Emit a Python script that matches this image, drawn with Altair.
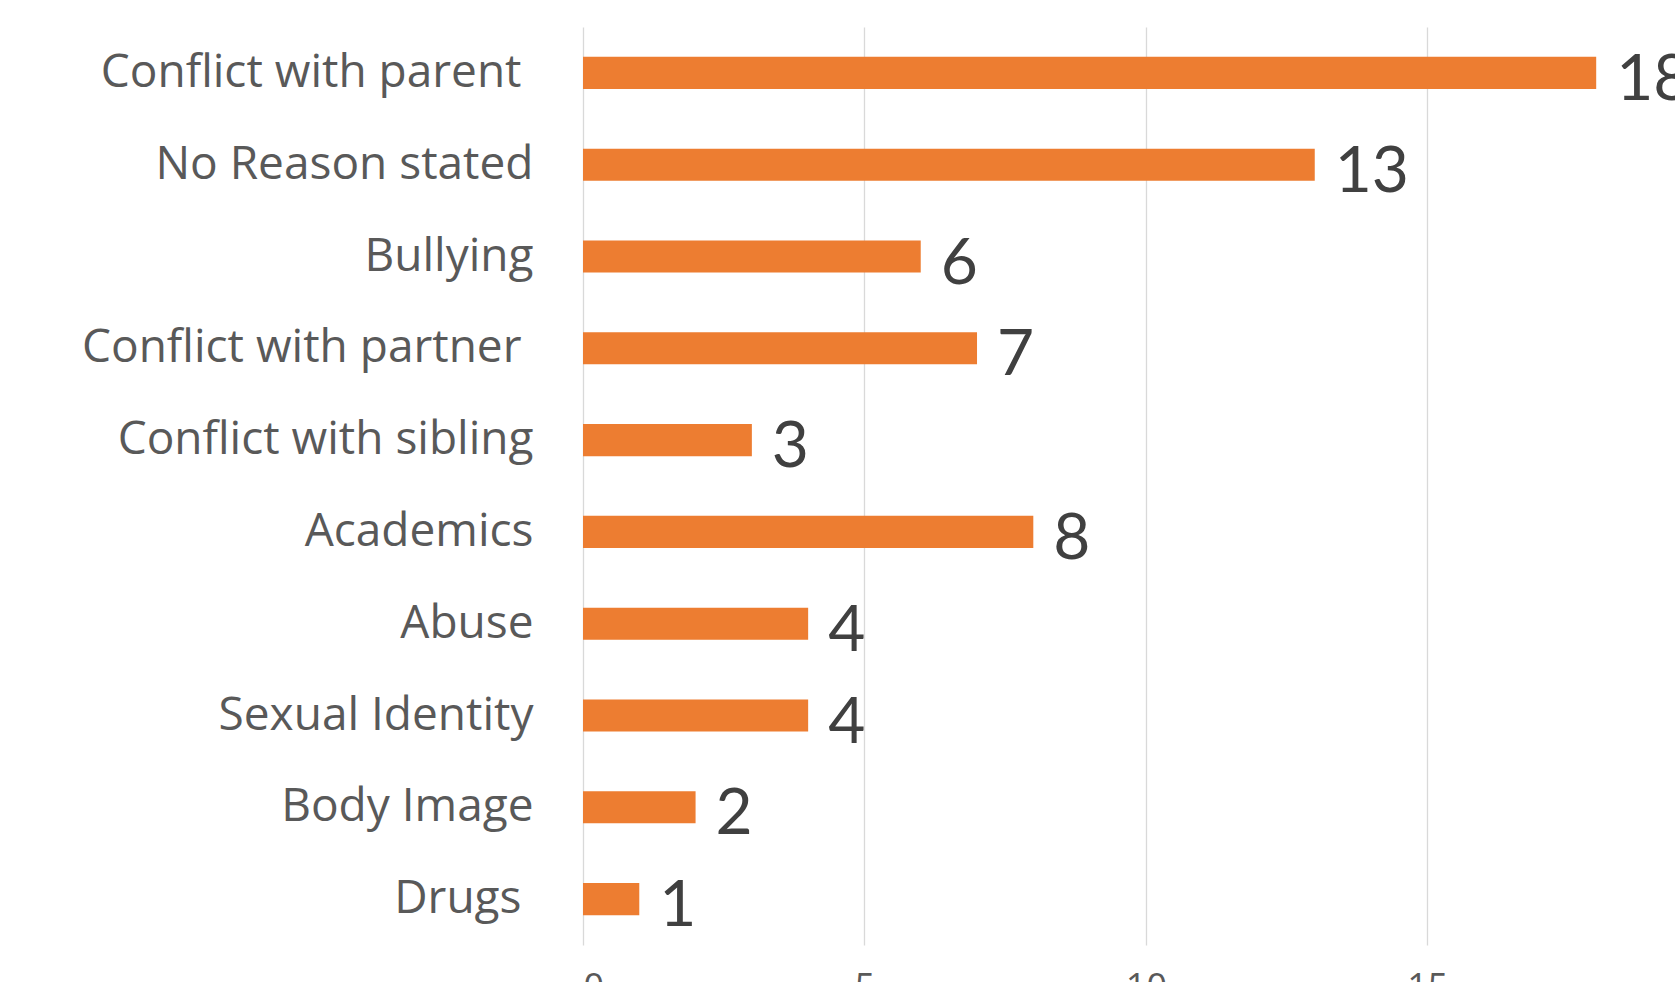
import altair as alt
import pandas as pd

categories = [
    "Conflict with parent",
    "No Reason stated",
    "Bullying",
    "Conflict with partner",
    "Conflict with sibling",
    "Academics",
    "Abuse",
    "Sexual Identity",
    "Body Image",
    "Drugs",
]
counts = [18, 13, 6, 7, 3, 8, 4, 4, 2, 1]
x_ticks = [0, 5, 10, 15]
# labels that carried a trailing space in the original
trailing_space = ["Conflict with parent", "Conflict with partner", "Drugs"]

df = pd.DataFrame({"reason": categories, "count": counts})

LABEL_FONT = "Open Sans"
VALUE_FONT = "Lato"

pad_expr = (
    "indexof(" + str(trailing_space) + ", datum.value) >= 0 ? 62 : 50"
)

y_enc = alt.Y(
    "reason:N",
    sort=categories,
    title=None,
    scale=alt.Scale(paddingInner=0.65, paddingOuter=0.325),
    axis=alt.Axis(
        labelFont=LABEL_FONT,
        labelFontSize=46,
        labelColor="#595959",
        labelPadding=alt.ExprRef(pad_expr),
        labelLimit=600,
        ticks=False,
        domain=False,
        grid=False,
        minExtent=583,
        maxExtent=583,
    ),
)

x_enc = alt.X(
    "count:Q",
    title=None,
    scale=alt.Scale(domain=[0, 19.4], nice=False, zero=True),
    axis=alt.Axis(
        values=x_ticks,
        labelFont=LABEL_FONT,
        labelFontSize=36,
        labelColor="#595959",
        labelPadding=25,
        ticks=False,
        domain=False,
        grid=True,
        gridColor="#D9D9D9",
        gridWidth=1.3,
    ),
)

bars = alt.Chart(df).mark_bar(color="#ED7D31").encode(x=x_enc, y=y_enc)

labels = alt.Chart(df).mark_text(
    align="left",
    baseline="alphabetic",
    dx=20,
    dy=27,
    font=VALUE_FONT,
    fontSize=64,
    color="#404040",
).encode(x=x_enc, y=y_enc, text="count:Q")

chart = (
    alt.layer(bars, labels)
    .properties(
        width=1092,
        height=918,
        autosize=alt.AutoSizeParams(type="none"),
        padding={"left": 583, "top": 27, "right": 0, "bottom": 37},
        background="white",
    )
    .configure_view(stroke=None)
)

chart.save("out.html", embed_options={"renderer": "svg", "actions": False})
